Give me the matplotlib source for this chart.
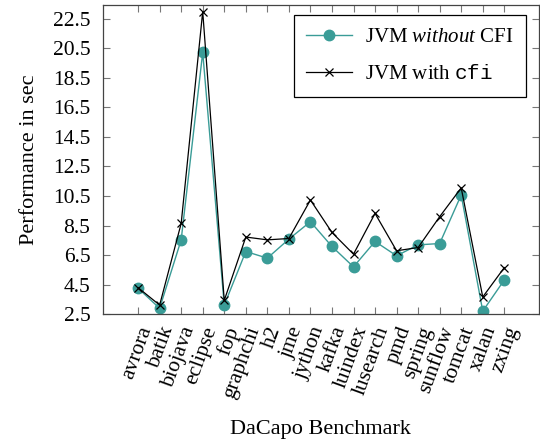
import matplotlib
matplotlib.use("Agg")
import matplotlib.pyplot as plt
import numpy as np

benchmarks = ["avrora", "batik", "biojava", "eclipse", "fop", "graphchi", "h2", "jme",
              "jython", "kafka", "luindex", "lusearch", "pmd", "spring", "sunflow",
              "tomcat", "xalan", "zxing"]
without_cfi = [4.25, 2.89, 7.53, 20.23, 3.11, 6.74, 6.29, 7.58, 8.76, 7.08, 5.70,
               7.42, 6.45, 7.19, 7.28, 10.57, 2.70, 4.81]
with_cfi = [4.29, 3.11, 8.64, 23.0, 3.43, 7.72, 7.53, 7.62, 10.23, 8.03, 6.56,
            9.32, 6.79, 7.01, 9.10, 11.05, 3.66, 5.65]
yticks = [2.5, 4.5, 6.5, 8.5, 10.5, 12.5, 14.5, 16.5, 18.5, 20.5, 22.5]

plt.rcParams["font.family"] = ["Liberation Serif", "DejaVu Serif"]
plt.rcParams["mathtext.fontset"] = "custom"
plt.rcParams["mathtext.rm"] = "Liberation Serif"
plt.rcParams["mathtext.it"] = "Liberation Serif:italic"
plt.rcParams["mathtext.tt"] = "Liberation Mono"

teal = "#3a9c97"

fig = plt.figure(figsize=(5.4, 4.43), dpi=100)
ax = fig.add_axes([0.1907, 0.291, 0.807, 0.698])

x = np.arange(len(benchmarks))
ax.plot(x, without_cfi, color=teal, lw=1.0, marker="o", ms=7.5, label=r"JVM $\mathit{without}$ CFI")
ax.plot(x, with_cfi, color="black", lw=0.9, marker="x", ms=6, mew=0.9, label=r"JVM with $\mathtt{cfi}$")

ax.set_xlim(-1.63, len(benchmarks) - 1 + 1.6)
ax.set_ylim(2.5, 23.45)
ax.set_yticks(yticks)
ax.set_yticklabels([f"{v:.1f}" for v in yticks])
ax.set_xticks(x)
ax.set_xticklabels(benchmarks, rotation=70, ha="right", va="top", rotation_mode="anchor")

ax.tick_params(axis="both", direction="in", length=5, width=0.8, color="#777777",
               top=True, right=True, labelsize=15.5)
ax.tick_params(axis="x", pad=7)
ax.tick_params(axis="y", pad=9)
for s in ax.spines.values():
    s.set_color("#444444")
    s.set_linewidth(0.9)

ax.set_ylabel("Performance in sec", fontsize=16, labelpad=10)
ax.set_xlabel("DaCapo Benchmark", fontsize=16, labelpad=14)

leg = ax.legend(loc="upper right", fontsize=15, fancybox=False, framealpha=1,
                edgecolor="black", borderpad=0.6, labelspacing=0.85,
                handlelength=2.2, handletextpad=0.6, borderaxespad=0,
                bbox_to_anchor=(0.970, 0.968))
leg.get_frame().set_linewidth(0.9)

fig.savefig("out.png", dpi=100)
